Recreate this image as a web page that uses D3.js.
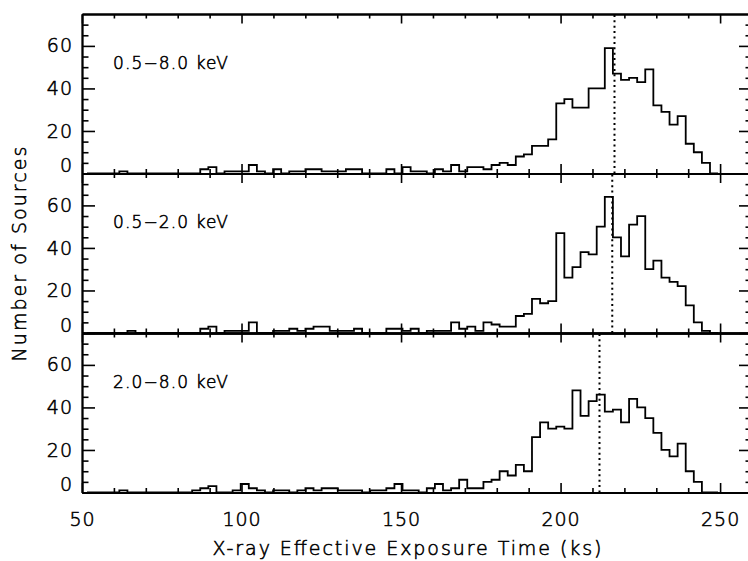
<!DOCTYPE html>
<html><head><meta charset="utf-8">
<script src="https://cdn.jsdelivr.net/npm/d3@7"></script>
<style>
body{margin:0;background:#fff}
text{font-family:"DejaVu Sans",sans-serif;font-weight:200;fill:#000;stroke:#000;stroke-width:0.55px}
</style>
</head><body>
<svg id="chart" width="748" height="561"></svg>
<script>
// ---- data ----
const binStart = 51.56;      // ks, left edge of first bin
const binWidth = 2.536;      // ks
const countsBroad = [0,0,0,0,1,0,0,0,0,0, 0,0,0,0,2,3,0,1,1,1, 4,1,0,2,0,1,1,2,2,1, 1,1,2,2,0,0,0,2,0,3,
  1,1,0,2,1,4,1,3,3,2, 4,5,4,8,9,13,13,16,33,35, 31,31,40,40,59,47,44,45,43,49, 32,29,23,27,14,10,5,0];
const countsSoft = [0,0,0,0,0,1,0,0,0,0, 0,0,0,0,2,3,0,1,1,1, 5,0,0,1,1,2,1,2,3,3, 1,1,1,2,0,0,0,2,2,1,
  2,0,1,1,1,5,2,3,1,5, 4,3,3,8,9,16,14,15,47,26, 31,38,37,50,64,45,36,51,55,30, 34,26,24,22,13,5,1,0];
const countsHard = [0,0,0,0,1,0,0,0,0,0, 0,0,0,1,2,3,0,0,1,4, 2,1,0,1,1,0,1,2,1,2, 2,1,1,1,0,1,1,2,4,1,
  1,0,2,4,1,2,6,2,2,5, 6,10,8,13,10,26,33,30,31,30, 48,36,43,46,38,39,33,44,40,35, 28,20,17,23,10,5,0,0];
const bandLabels = ["0.5\u22128.0  keV", "0.5\u22122.0  keV", "2.0\u22128.0  keV"];
const medianTimes = [216.9, 216.2, 212.2];
const xMajorTicks = [50, 100, 150, 200, 250];
const xMinorTicks = [60,70,80,90,110,120,130,140,160,170,180,190,210,220,230,240,260];
const yMajorTicks = [0, 20, 40, 60];
const yMinorTicks = [5,10,15,25,30,35,45,50,55,65,70];
const xTitle = "X-ray Effective Exposure Time (ks)";
const yTitle = "Number of Sources";

// ---- layout ----
const svg = d3.select("#chart");
svg.append("rect").attr("width",748).attr("height",561).attr("fill","#fff");
const left = 82, right = 752;
const tops = [14, 173.5, 333];
const ph = 159.5;
const x = d3.scaleLinear().domain([50, 260]).range([left, right]);

const panels = [countsBroad, countsSoft, countsHard];
const sw = 1.8;

panels.forEach((counts, p) => {
  const top = tops[p], bot = top + ph;
  const y = d3.scaleLinear().domain([0, 75]).range([bot, top]);
  const g = svg.append("g");
  const isLast = p === panels.length - 1;

  // histogram
  const pts = counts.map((c, i) => [binStart + i * binWidth, c]);
  pts.push([binStart + counts.length * binWidth, 0]);
  const line = d3.line().x(d => x(d[0])).y(d => y(d[1])).curve(d3.curveStepAfter);
  g.append("path").attr("d", line(pts)).attr("fill","none")
    .attr("stroke","#000").attr("stroke-width",sw).attr("stroke-linejoin","miter");

  // median dotted line
  g.append("line").attr("x1", x(medianTimes[p])).attr("x2", x(medianTimes[p]))
    .attr("y1", bot).attr("y2", top).attr("stroke","#000").attr("stroke-width",2)
    .attr("stroke-dasharray","2,3.4");

  // axes
  const styleAxis = sel => {
    sel.selectAll("path.domain").attr("stroke","#000").attr("stroke-width",sw);
    sel.selectAll(".tick line").attr("stroke","#000").attr("stroke-width",1.6);
  };
  // bottom
  const bx = g.append("g").attr("transform",`translate(0,${bot})`)
    .call(d3.axisBottom(x).tickValues(xMajorTicks).tickSizeInner(-9.5).tickSizeOuter(0)
      .tickPadding(isLast ? 20 : 0).tickFormat(isLast ? d3.format("d") : () => ""));
  styleAxis(bx);
  bx.selectAll("text").attr("font-size",19).attr("letter-spacing",1);
  const bxm = g.append("g").attr("transform",`translate(0,${bot})`)
    .call(d3.axisBottom(x).tickValues(xMinorTicks).tickSizeInner(-4.5).tickSizeOuter(0).tickFormat(() => ""));
  styleAxis(bxm);
  // top
  const tx = g.append("g").attr("transform",`translate(0,${top})`)
    .call(d3.axisTop(x).tickValues(xMajorTicks).tickSizeInner(-9.5).tickSizeOuter(0).tickFormat(() => ""));
  styleAxis(tx);
  const txm = g.append("g").attr("transform",`translate(0,${top})`)
    .call(d3.axisTop(x).tickValues(xMinorTicks).tickSizeInner(-4.5).tickSizeOuter(0).tickFormat(() => ""));
  styleAxis(txm);
  // left
  const ly = g.append("g").attr("transform",`translate(${left},0)`)
    .call(d3.axisLeft(y).tickValues(yMajorTicks).tickSizeInner(-13).tickSizeOuter(0).tickPadding(9)
      .tickFormat(d3.format("d")));
  styleAxis(ly);
  ly.selectAll("text").attr("font-size",19).attr("letter-spacing",1)
    .attr("transform", d => d === 0 ? "translate(0,-8)" : null);
  const lym = g.append("g").attr("transform",`translate(${left},0)`)
    .call(d3.axisLeft(y).tickValues(yMinorTicks).tickSizeInner(-6.5).tickSizeOuter(0).tickFormat(() => ""));
  styleAxis(lym);
  // right
  const ry = g.append("g").attr("transform",`translate(${right},0)`)
    .call(d3.axisRight(y).tickValues(yMajorTicks).tickSizeInner(-13).tickSizeOuter(0).tickFormat(() => ""));
  styleAxis(ry);
  const rym = g.append("g").attr("transform",`translate(${right},0)`)
    .call(d3.axisRight(y).tickValues(yMinorTicks).tickSizeInner(-6.5).tickSizeOuter(0).tickFormat(() => ""));
  styleAxis(rym);

  // band label
  g.append("text").attr("x", 113).attr("y", top + 54.7).attr("font-size", 17)
    .attr("textLength", 115).attr("lengthAdjust","spacing").text(bandLabels[p]);
});

// titles
svg.append("text").attr("x", 407).attr("y", 555).attr("text-anchor","middle")
  .attr("font-size",19).attr("textLength",389).attr("lengthAdjust","spacing").text(xTitle);
svg.append("text").attr("transform","translate(26,254) rotate(-90)").attr("text-anchor","middle")
  .attr("font-size",19).attr("textLength",215).attr("lengthAdjust","spacing").text(yTitle);
</script>
</body></html>
